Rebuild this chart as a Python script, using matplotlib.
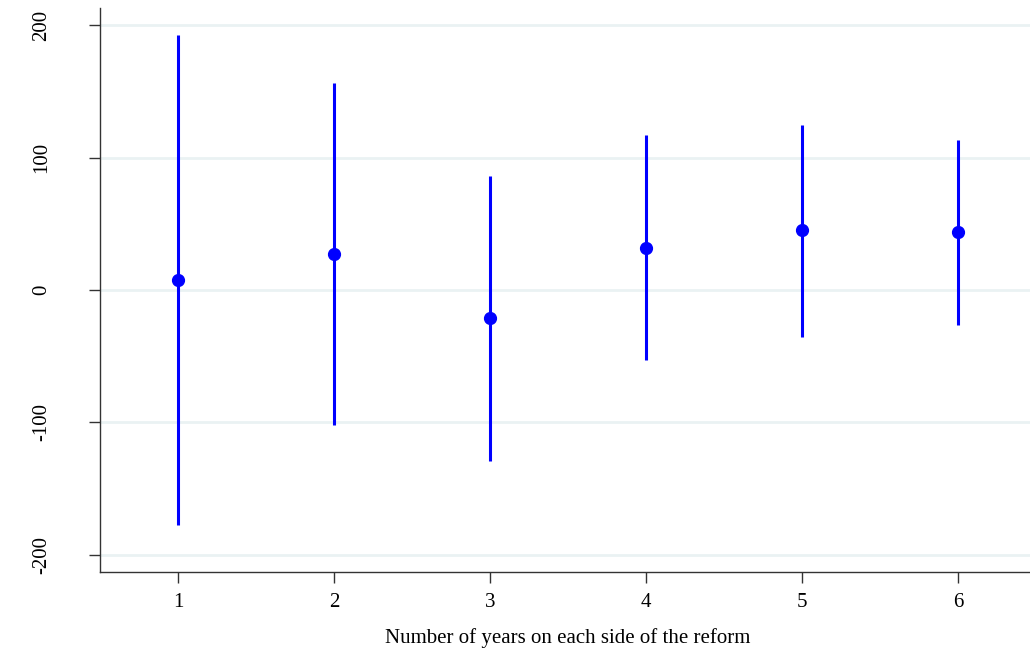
import matplotlib
matplotlib.use("Agg")
from matplotlib import pyplot as plt

# event-window estimates with confidence intervals
years = [1, 2, 3, 4, 5, 6]
estimate = [7.3, 27.4, -21.2, 32.0, 45.0, 43.8]
ci_low = [-177.4, -101.6, -129.3, -52.9, -35.2, -26.2]
ci_high = [192.4, 156.1, 85.8, 117.4, 124.6, 113.6]
yticks = [-200, -100, 0, 100, 200]

plt.rcParams["font.family"] = ["Liberation Serif", "DejaVu Serif"]

fig = plt.figure(figsize=(10.3, 6.55), dpi=100)
# plot region runs a little past the right edge of the image, as in the original
ax = fig.add_axes([100 / 1030, 1 - 572 / 655, 936 / 1030, 564 / 655])

for y in yticks:
    ax.axhline(y, color="#eaf2f3", linewidth=2, zorder=0)

ax.vlines(years, ci_low, ci_high, color="blue", linewidth=2.2, zorder=2)
ax.plot(years, estimate, "o", color="blue", markersize=8.5, zorder=3)

ax.set_xlim(0.5, 6.5)
ax.set_ylim(-213, 213)
ax.set_xticks(years)
ax.set_yticks(yticks)
ax.set_yticklabels([str(v) for v in yticks], rotation=90, va="center")
ax.tick_params(axis="both", length=8, width=1, color="#333333", labelsize=15)
ax.tick_params(axis="y", pad=27)
ax.tick_params(axis="x", pad=7)

ax.spines["top"].set_visible(False)
ax.spines["right"].set_visible(False)
for s in ("left", "bottom"):
    ax.spines[s].set_color("#333333")
    ax.spines[s].set_linewidth(1)

ax.set_xlabel("Number of years on each side of the reform", fontsize=15, labelpad=12)

fig.savefig("out.png", dpi=100)
